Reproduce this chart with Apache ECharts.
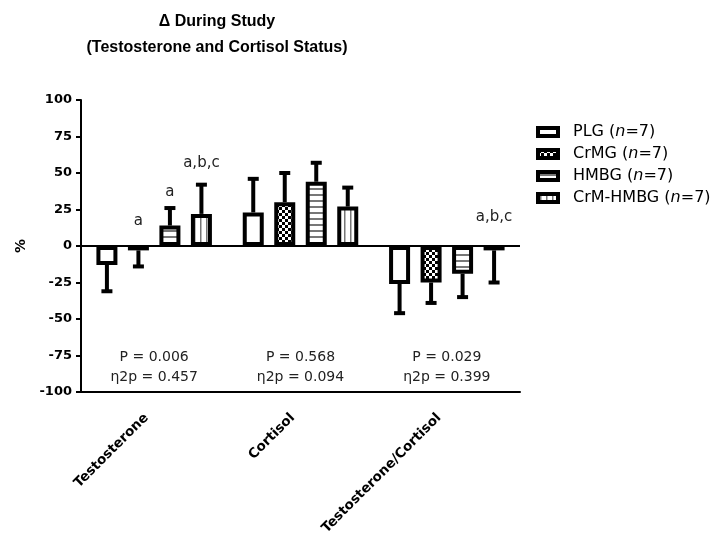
<!DOCTYPE html>
<html><head><meta charset="utf-8">
<script src="https://cdn.jsdelivr.net/npm/echarts@6/dist/echarts.min.js"></script>
<style>html,body{margin:0;padding:0;background:#fff}#c{width:718px;height:534px}</style>
</head><body><div id="c"></div>
<script>
const categories = ['Testosterone', 'Cortisol', 'Testosterone/Cortisol'];
const groups = ['PLG', 'CrMG', 'HMBG', 'CrM-HMBG'];
const groupN = [7, 7, 7, 7];
const plgMean = [-13, 23, -26];
const plgSD = [18, 23, 20];
const crmgMean = [-3, 30, -25];
const crmgSD = [11, 20, 14];
const hmbgMean = [14, 44, -19];
const hmbgSD = [12, 13, 16];
const crmhmbgMean = [22, 27, -3];
const crmhmbgSD = [20, 13, 22];
const yTicks = [-100, -75, -50, -25, 0, 25, 50, 75, 100];
const pValues = ['0.006', '0.568', '0.029'];
const eta2pValues = ['0.457', '0.094', '0.399'];
// significance letters: [category index, group index, text, height on % scale]
const annotations = [[0, 1, 'a', 17], [0, 2, 'a', 37], [0, 3, 'a,b,c', 57], [2, 3, 'a,b,c', 20]];

const means = [plgMean, crmgMean, hmbgMean, crmhmbgMean];
const sds = [plgSD, crmgSD, hmbgSD, crmhmbgSD];

const BAR_W = 21, BAR_GAP = 0.5, PITCH = BAR_W * (1 + BAR_GAP);
const FONT = 'DejaVu Sans';

function pattern(draw, w, h) {
  const c = document.createElement('canvas');
  c.width = w; c.height = h;
  const g = c.getContext('2d');
  g.fillStyle = '#fff'; g.fillRect(0, 0, w, h);
  draw(g);
  return { image: c, repeat: 'repeat' };
}
const fills = [
  '#ffffff',
  pattern(g => { g.fillStyle = '#000'; g.fillRect(0, 0, 3, 3); g.fillRect(3, 3, 3, 3); }, 6, 6),
  pattern(g => { g.fillStyle = '#777'; g.fillRect(0, 2, 6, 2); }, 6, 6),
  pattern(g => { g.fillStyle = '#777'; g.fillRect(2, 0, 1.5, 6); }, 6, 6)
];

const chart = echarts.init(document.getElementById('c'));

const barSeries = groups.map((name, gi) => ({
  name: name,
  type: 'bar',
  barWidth: BAR_W,
  barGap: (BAR_GAP * 100) + '%',
  data: means[gi],
  itemStyle: { color: fills[gi], borderColor: '#000', borderWidth: 4 },
  z: 2,
  markLine: gi === 0 ? {
    silent: true, symbol: 'none', label: { show: false },
    lineStyle: { color: '#000', width: 2, type: 'solid' },
    data: [{ yAxis: 0 }]
  } : undefined
}));

const errData = [];
groups.forEach((g, gi) => categories.forEach((c, ci) => errData.push([ci, gi, means[gi][ci], sds[gi][ci]])));

const errSeries = {
  type: 'custom', name: 'err', silent: true, z: 3,
  data: errData,
  encode: { x: 0, y: 2 },
  renderItem(params, api) {
    const ci = api.value(0), gi = api.value(1), m = api.value(2), sd = api.value(3);
    const end = m >= 0 ? m + sd : m - sd;
    const p0 = api.coord([ci, m]);
    const p1 = api.coord([ci, end]);
    const x = p0[0] + (gi - 1.5) * PITCH;
    const top = Math.min(p0[1], p1[1]);
    const h = Math.abs(p1[1] - p0[1]);
    return { type: 'group', children: [
      { type: 'rect', shape: { x: x - 2, y: top, width: 4, height: h }, style: { fill: '#000' } },
      { type: 'rect', shape: { x: x - 5.5, y: p1[1] - 2, width: 11, height: 4 }, style: { fill: '#000' } }
    ] };
  }
};

const annSeries = {
  type: 'custom', name: 'ann', silent: true, z: 4,
  data: annotations.map(a => [a[0], a[1], a[3]]),
  encode: { x: 0, y: 2 },
  renderItem(params, api) {
    const a = annotations[params.dataIndex];
    const p = api.coord([a[0], a[3]]);
    return { type: 'text', x: p[0] + (a[1] - 1.5) * PITCH, y: p[1],
      style: { text: a[2], fontFamily: FONT, fontSize: 15, fill: '#222', align: 'center', verticalAlign: 'middle' } };
  }
};

const statSeries = {
  type: 'custom', name: 'stat', silent: true, z: 4,
  data: categories.map((c, i) => [i, -76]),
  encode: { x: 0, y: 1 },
  renderItem(params, api) {
    const i = params.dataIndex;
    const p = api.coord([i, -76]);
    const q = api.coord([i, -90]);
    const st = { fontFamily: FONT, fontSize: 14, fill: '#222', align: 'center', verticalAlign: 'middle' };
    return { type: 'group', children: [
      { type: 'text', x: p[0], y: p[1], style: Object.assign({ text: 'P = ' + pValues[i] }, st) },
      { type: 'text', x: q[0], y: q[1], style: Object.assign({ text: 'η2p = ' + eta2pValues[i] }, st) }
    ] };
  }
};

chart.setOption({
  animation: false,
  backgroundColor: '#fff',
  title: {
    text: 'Δ During Study\n(Testosterone and Cortisol Status)',
    left: 217, top: 9, textAlign: 'center', padding: 0,
    textStyle: { fontFamily: 'Liberation Sans', fontWeight: 'bold', fontSize: 16, lineHeight: 26, color: '#000' }
  },
  legend: {
    orient: 'vertical', left: 536, top: 124, padding: 0,
    icon: 'rect',
    itemWidth: 20, itemHeight: 8, itemGap: 6,
    data: groups,
    formatter: name => name + ' ({i|n}=' + groupN[groups.indexOf(name)] + ')',
    itemStyle: { borderColor: '#000', borderWidth: 4 },
    textStyle: { fontFamily: FONT, fontSize: 16, color: '#000', lineHeight: 16, padding: [0, 0, 0, 10],
      rich: { i: { fontFamily: FONT, fontSize: 16, fontStyle: 'italic', color: '#000' } } }
  },
  grid: { left: 81, right: 198, top: 100, bottom: 142, containLabel: false, outerBoundsMode: 'none' },
  xAxis: {
    type: 'category', data: categories,
    axisLine: { onZero: false, lineStyle: { color: '#000', width: 2 } },
    axisTick: { alignWithLabel: true, length: 6, lineStyle: { color: '#000', width: 2 } },
    axisLabel: { rotate: 45, interval: 0, fontFamily: FONT, fontWeight: 'bold', fontSize: 13.5, color: '#000',
      margin: 16, padding: [0, 11, 0, 0] },
    splitLine: { show: false }
  },
  yAxis: {
    type: 'value', min: yTicks[0], max: yTicks[yTicks.length - 1], interval: 25,
    name: '%', nameLocation: 'middle', nameGap: 50, nameRotate: 90,
    nameTextStyle: { fontFamily: FONT, fontWeight: 'bold', fontSize: 14, color: '#000' },
    axisLine: { show: true, lineStyle: { color: '#000', width: 2 } },
    axisTick: { show: true, length: 5, lineStyle: { color: '#000', width: 2 } },
    axisLabel: { fontFamily: FONT, fontWeight: 'bold', fontSize: 13, color: '#000', margin: 9 },
    splitLine: { show: false }
  },
  series: barSeries.concat([errSeries, annSeries, statSeries])
});
</script></body></html>
